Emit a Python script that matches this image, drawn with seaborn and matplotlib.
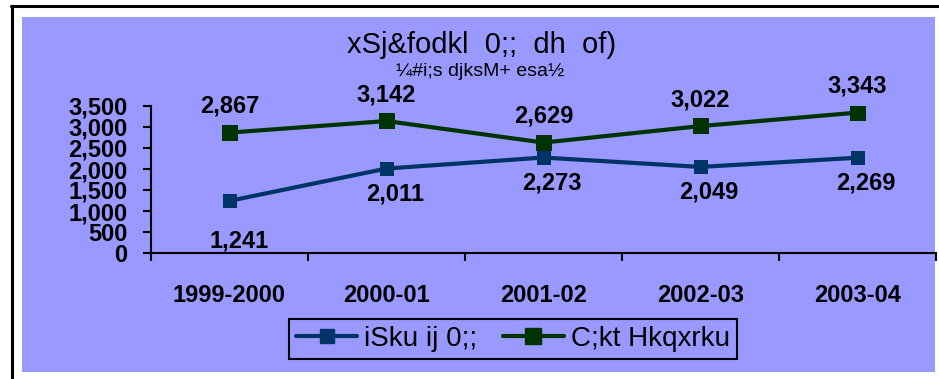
import numpy as np
import pandas as pd
import seaborn as sns
import matplotlib
matplotlib.use("Agg")
import matplotlib.pyplot as plt
from matplotlib.patches import Rectangle
from matplotlib.lines import Line2D

# data
years = ["1999-2000", "2000-01", "2001-02", "2002-03", "2003-04"]
pension = [1241, 2011, 2273, 2049, 2269]
interest = [2867, 3142, 2629, 3022, 3343]
series_names = ["iSku ij 0;;", "C;kt Hkqxrku"]
title = "xSj&fodkl  0;;  dh  of)"
subtitle = "¼#i;s djksM+ esa½"
y_ticks = [0, 500, 1000, 1500, 2000, 2500, 3000, 3500]

bg = "#9999FF"
clr_pension = "#003366"
clr_interest = "#003300"

sns.set_theme(style="white")
plt.rcParams["font.family"] = ["Liberation Sans", "DejaVu Sans"]
plt.rcParams["text.color"] = "black"
plt.rcParams["xtick.color"] = "black"
plt.rcParams["ytick.color"] = "black"
narrow = ["Liberation Sans Narrow", "Liberation Sans", "DejaVu Sans"]

df = pd.DataFrame({
    "pos": list(range(len(years))) * 2,
    "value": pension + interest,
    "series": [series_names[0]] * len(years) + [series_names[1]] * len(years),
})

fig = plt.figure(figsize=(9.39, 3.79), dpi=100, facecolor="white")

# blue chart area + black frame pieces
fig.patches.append(Rectangle((22 / 939, 7 / 379), (935 - 22) / 939, (372 - 17) / 379,
                             transform=fig.transFigure, facecolor=bg, edgecolor="none", zorder=-5))
fig.lines.append(Line2D([11 / 939, 1], [0.983, 0.983], transform=fig.transFigure,
                        color="black", lw=2.2, zorder=-4))
fig.lines.append(Line2D([0.0128, 0.0128], [0, 0.983], transform=fig.transFigure,
                        color="black", lw=2.2, zorder=-4))

ax = fig.add_axes([151 / 939, 126 / 379, (936 - 151) / 939, (253 - 106) / 379])
ax.set_facecolor("none")

sns.lineplot(data=df, x="pos", y="value", hue="series", style="series",
             palette=[clr_pension, clr_interest], markers=["s", "s"], dashes=False,
             linewidth=3, ax=ax, legend=False)
# marker sizes differ a bit between the two series
for line, ms in zip(ax.lines, [9.5, 11.5]):
    line.set_markersize(ms)
    line.set_markeredgewidth(0)

# value labels
for i, v in enumerate(interest):
    ax.annotate(f"{v:,}", (i, v), xytext=(0, 19), textcoords="offset points",
                ha="center", va="center", fontsize=17, fontweight="bold")
for i, v in enumerate(pension):
    dx, dy = (7, -29) if i == 0 else (6, -18)
    ax.annotate(f"{v:,}", (i, v), xytext=(dx, dy), textcoords="offset points",
                ha="center", va="center", fontsize=17, fontweight="bold")

ax.set_xlim(-0.5, len(years) - 0.5)
ax.set_ylim(0, 3500)
ax.set_yticks(y_ticks)
ax.set_yticklabels([f"{t:,}" for t in y_ticks], fontsize=17, fontweight="bold")
ax.set_xticks(np.arange(-0.5, len(years), 1.0))
ax.set_xticklabels([])
ax.set_xticks(range(len(years)), minor=True)
ax.set_xticklabels(years, minor=True, fontsize=17, fontweight="bold")
ax.tick_params(axis="x", which="major", direction="out", length=6, width=1.5, bottom=True)
ax.tick_params(axis="x", which="minor", length=0, pad=22)
ax.tick_params(axis="y", direction="out", length=6, width=1.5, left=True, pad=11)
ax.set_xlabel("")
ax.set_ylabel("")
for s in ["top", "right"]:
    ax.spines[s].set_visible(False)
for s in ["left", "bottom"]:
    ax.spines[s].set_color("black")
    ax.spines[s].set_linewidth(1.5)

fig.text(482 / 939, 1 - 45 / 379, title, ha="center", va="center", fontsize=21, family=narrow)
fig.text(480 / 939, 1 - 72 / 379, subtitle, ha="center", va="center", fontsize=14, family=narrow)

handles = [Line2D([], [], color=clr_pension, lw=3, marker="s", ms=9.5, mec=clr_pension),
           Line2D([], [], color=clr_interest, lw=3, marker="s", ms=11.5, mec=clr_interest)]
leg = fig.legend(handles, series_names, loc="center", bbox_to_anchor=(513 / 939, 1 - 339 / 379),
                 ncol=2, frameon=True, fancybox=False, edgecolor="black", facecolor=bg,
                 prop={"family": narrow, "size": 20}, handlelength=2.2, handletextpad=0.25,
                 columnspacing=0.9, borderpad=0.25, framealpha=1)
leg.get_frame().set_linewidth(1.5)

fig.savefig("out.png", dpi=100, facecolor="white")
